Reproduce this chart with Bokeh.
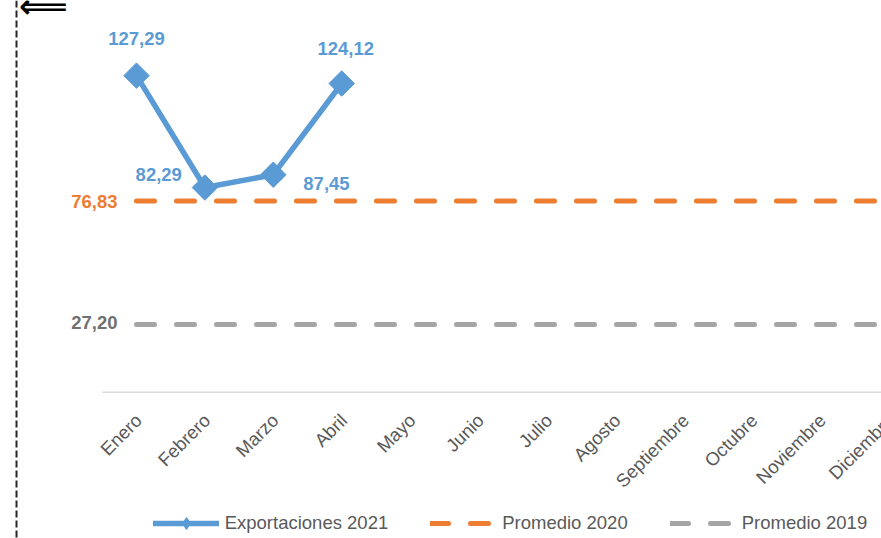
import math
from bokeh.plotting import figure
from bokeh.models import ColumnDataSource, Range1d, Legend, LegendItem, Span
from bokeh.core.properties import value
from bokeh.embed import file_html
from bokeh.resources import INLINE

# ---------------- data ----------------
months = ["Enero", "Febrero", "Marzo", "Abril", "Mayo", "Junio", "Julio",
          "Agosto", "Septiembre", "Octubre", "Noviembre", "Diciembre"]
exportaciones_2021 = [127.29, 82.29, 87.45, 124.12]
promedio_2020 = 76.83
promedio_2019 = 27.20
series_names = ["Exportaciones 2021", "Promedio 2020", "Promedio 2019"]

# ---------------- styles / layout ----------------
BLUE = "#5B9BD5"
ORANGE = "#ED7D31"
GRAY = "#A5A5A5"
TXT = "#595959"
FONT = "Liberation Sans"
FS = "18.5px"

W, H = 881, 538
PX_X = 68.4      # pixels per month
X0_PX = 136.0    # canvas x of first month
PX_Y = 2.487     # pixels per unit
Y0_PX = 391.7    # canvas y (from top) of value 0

x_start = -X0_PX / PX_X
x_end = (W - X0_PX) / PX_X
y_end = Y0_PX / PX_Y
y_start = -(H - Y0_PX) / PX_Y


def px_to_x(px):
    return x_start + px / PX_X


def py_to_y(py):
    return y_end - py / PX_Y


def fmt(v):
    return f"{v:.2f}".replace(".", ",")


p = figure(width=W, height=H, x_range=Range1d(x_start, x_end),
           y_range=Range1d(y_start, y_end), output_backend="svg",
           toolbar_location=None, x_axis_type=None, y_axis_type=None,
           min_border=0, min_border_left=0, min_border_right=0,
           min_border_top=0, min_border_bottom=0)
p.grid.visible = False
p.outline_line_color = None
p.background_fill_color = "white"
p.border_fill_color = "white"

idx = list(range(len(months)))

# baseline (category axis line)
p.segment(x0=[-0.5], y0=[0], x1=[len(months) - 0.5], y1=[0],
          line_color="#D9D9D9", line_width=1.5)

# month labels
p.text(x=idx, y=[0] * len(months), text=months, angle=math.pi / 4,
       text_align="right", text_baseline="middle", x_offset=2, y_offset=25,
       text_font=value(FONT), text_font_size=FS, text_color=TXT)

# average lines
r2020 = p.line(x=idx, y=[promedio_2020] * len(months), line_color=ORANGE,
               line_width=5, line_dash="18 22", line_cap="round")
r2019 = p.line(x=idx, y=[promedio_2019] * len(months), line_color=GRAY,
               line_width=5, line_dash="18 22", line_cap="round")

p.text(x=[0], y=[promedio_2020], text=[fmt(promedio_2020)], text_align="right",
       text_baseline="middle", x_offset=-19, y_offset=0,
       text_font=value(FONT), text_font_style="bold",
       text_font_size=FS, text_color=ORANGE)
p.text(x=[0], y=[promedio_2019], text=[fmt(promedio_2019)], text_align="right",
       text_baseline="middle", x_offset=-19, y_offset=-2,
       text_font=value(FONT), text_font_style="bold",
       text_font_size=FS, text_color="#707070")

# exports series
ex_idx = list(range(len(exportaciones_2021)))
rline = p.line(x=ex_idx, y=exportaciones_2021, line_color=BLUE, line_width=5.5,
               line_join="round", line_cap="round")
# small diamond used for the legend key (sits hidden beneath the big markers)
rkey = p.scatter(x=ex_idx, y=exportaciones_2021, marker="diamond", size=8,
                 fill_color=BLUE, line_color=BLUE)
rmark = p.scatter(x=ex_idx, y=exportaciones_2021, marker="square",
                  angle=math.pi / 4, size=18, fill_color=BLUE, line_color=BLUE)

lab_src = ColumnDataSource(dict(
    x=ex_idx, y=exportaciones_2021,
    text=[fmt(v) for v in exportaciones_2021],
    dx=[0, -23, 30, 4], dy=[-37, -13, 9, -35],
    align=["center", "right", "left", "center"],
))
p.text(x="x", y="y", text="text", x_offset="dx", y_offset="dy",
       text_align="align", text_baseline="middle", source=lab_src,
       text_font=value(FONT), text_font_style="bold",
       text_font_size=FS, text_color=BLUE)

legend = Legend(items=[
    LegendItem(label=series_names[0], renderers=[rline, rkey]),
    LegendItem(label=series_names[1], renderers=[r2020]),
    LegendItem(label=series_names[2], renderers=[r2019]),
], orientation="horizontal", location=(152.7, 0))
legend.glyph_width = 66
legend.glyph_height = 30
legend.label_height = 20
legend.label_standoff = 6
legend.spacing = 42
legend.padding = 0
legend.margin = 0
legend.border_line_color = None
legend.background_fill_alpha = 0
legend.label_text_font = FONT
legend.label_text_font_size = FS
legend.label_text_color = TXT
p.add_layout(legend, "center")

# decorations: left dashed border and arrow
p.add_layout(Span(location=px_to_x(16), dimension="height", line_color="#262626",
                  line_width=2, line_dash="7 3"))
p.text(x=[px_to_x(18.5)], y=[py_to_y(5.5)], text=["\u27f8"],
       text_font=value("DejaVu Sans"), text_font_style="bold",
       text_font_size="34px",
       text_align="left", text_baseline="middle", text_color="black")

open("out.html", "w").write(file_html(p, INLINE))
